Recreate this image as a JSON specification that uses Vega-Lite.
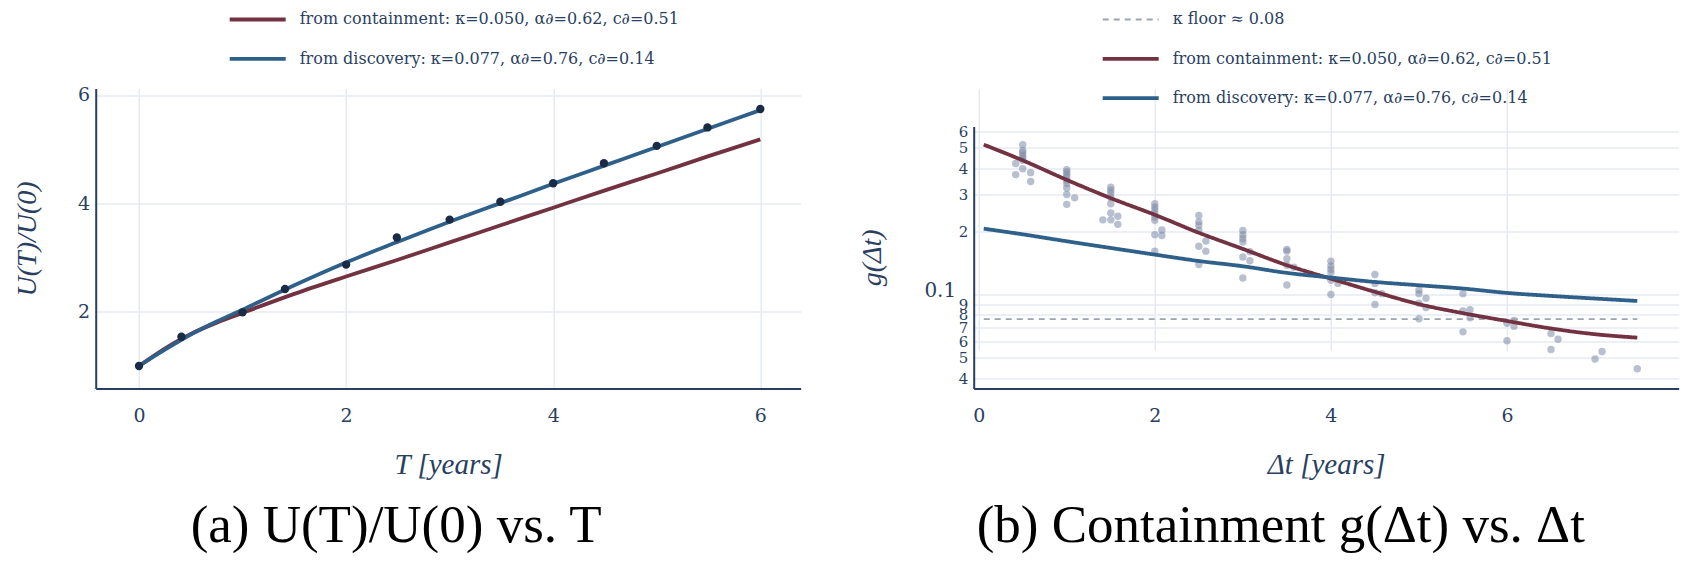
{
  "$schema": "https://vega.github.io/schema/vega-lite/v6.json",
  "background": "white",
  "padding": {"left": 12.7, "top": 9.4, "right": 5, "bottom": 5},
  "spacing": 58,
  "resolve": {
    "scale": {"color": "independent", "strokeDash": "independent", "strokeWidth": "independent"},
    "legend": {"color": "independent", "strokeDash": "independent", "strokeWidth": "independent"}
  },
  "datasets": {
    "uLines": [
      {"series": "from containment: κ=0.050, α∂=0.62, c∂=0.51", "T": 0, "U": 1.0},
      {"series": "from containment: κ=0.050, α∂=0.62, c∂=0.51", "T": 0.25, "U": 1.32},
      {"series": "from containment: κ=0.050, α∂=0.62, c∂=0.51", "T": 0.5, "U": 1.59},
      {"series": "from containment: κ=0.050, α∂=0.62, c∂=0.51", "T": 0.75, "U": 1.80},
      {"series": "from containment: κ=0.050, α∂=0.62, c∂=0.51", "T": 1.0, "U": 1.98},
      {"series": "from containment: κ=0.050, α∂=0.62, c∂=0.51", "T": 1.5, "U": 2.33},
      {"series": "from containment: κ=0.050, α∂=0.62, c∂=0.51", "T": 2.0, "U": 2.65},
      {"series": "from containment: κ=0.050, α∂=0.62, c∂=0.51", "T": 2.5, "U": 2.96},
      {"series": "from containment: κ=0.050, α∂=0.62, c∂=0.51", "T": 3.0, "U": 3.28},
      {"series": "from containment: κ=0.050, α∂=0.62, c∂=0.51", "T": 3.5, "U": 3.60},
      {"series": "from containment: κ=0.050, α∂=0.62, c∂=0.51", "T": 4.0, "U": 3.92},
      {"series": "from containment: κ=0.050, α∂=0.62, c∂=0.51", "T": 4.5, "U": 4.24},
      {"series": "from containment: κ=0.050, α∂=0.62, c∂=0.51", "T": 5.0, "U": 4.55},
      {"series": "from containment: κ=0.050, α∂=0.62, c∂=0.51", "T": 5.5, "U": 4.87},
      {"series": "from containment: κ=0.050, α∂=0.62, c∂=0.51", "T": 6.0, "U": 5.18},
      {"series": "from discovery: κ=0.077, α∂=0.76, c∂=0.14", "T": 0, "U": 1.0},
      {"series": "from discovery: κ=0.077, α∂=0.76, c∂=0.14", "T": 0.25, "U": 1.30},
      {"series": "from discovery: κ=0.077, α∂=0.76, c∂=0.14", "T": 0.5, "U": 1.58},
      {"series": "from discovery: κ=0.077, α∂=0.76, c∂=0.14", "T": 0.75, "U": 1.82},
      {"series": "from discovery: κ=0.077, α∂=0.76, c∂=0.14", "T": 1.0, "U": 2.04},
      {"series": "from discovery: κ=0.077, α∂=0.76, c∂=0.14", "T": 1.5, "U": 2.49},
      {"series": "from discovery: κ=0.077, α∂=0.76, c∂=0.14", "T": 2.0, "U": 2.91},
      {"series": "from discovery: κ=0.077, α∂=0.76, c∂=0.14", "T": 2.5, "U": 3.29},
      {"series": "from discovery: κ=0.077, α∂=0.76, c∂=0.14", "T": 3.0, "U": 3.66},
      {"series": "from discovery: κ=0.077, α∂=0.76, c∂=0.14", "T": 3.5, "U": 4.01},
      {"series": "from discovery: κ=0.077, α∂=0.76, c∂=0.14", "T": 4.0, "U": 4.36},
      {"series": "from discovery: κ=0.077, α∂=0.76, c∂=0.14", "T": 4.5, "U": 4.70},
      {"series": "from discovery: κ=0.077, α∂=0.76, c∂=0.14", "T": 5.0, "U": 5.04},
      {"series": "from discovery: κ=0.077, α∂=0.76, c∂=0.14", "T": 5.5, "U": 5.38},
      {"series": "from discovery: κ=0.077, α∂=0.76, c∂=0.14", "T": 6.0, "U": 5.72}
    ],
    "uPoints": [
      {"T": 0, "U": 1.0}, {"T": 0.41, "U": 1.54}, {"T": 1.0, "U": 1.99}, {"T": 1.41, "U": 2.42},
      {"T": 2.0, "U": 2.87}, {"T": 2.49, "U": 3.37}, {"T": 3.0, "U": 3.70}, {"T": 3.49, "U": 4.03},
      {"T": 4.0, "U": 4.37}, {"T": 4.49, "U": 4.74}, {"T": 5.0, "U": 5.06}, {"T": 5.49, "U": 5.40},
      {"T": 6.0, "U": 5.74}
    ],
    "gLines": [
      {"series": "κ floor ≈ 0.08", "dt": 0.057, "g": 0.0763},
      {"series": "κ floor ≈ 0.08", "dt": 7.48, "g": 0.0763},
      {"series": "from containment: κ=0.050, α∂=0.62, c∂=0.51", "dt": 0.057, "g": 0.518},
      {"series": "from containment: κ=0.050, α∂=0.62, c∂=0.51", "dt": 0.5, "g": 0.436},
      {"series": "from containment: κ=0.050, α∂=0.62, c∂=0.51", "dt": 1.0, "g": 0.352},
      {"series": "from containment: κ=0.050, α∂=0.62, c∂=0.51", "dt": 1.5, "g": 0.288},
      {"series": "from containment: κ=0.050, α∂=0.62, c∂=0.51", "dt": 2.0, "g": 0.240},
      {"series": "from containment: κ=0.050, α∂=0.62, c∂=0.51", "dt": 2.5, "g": 0.197},
      {"series": "from containment: κ=0.050, α∂=0.62, c∂=0.51", "dt": 3.0, "g": 0.165},
      {"series": "from containment: κ=0.050, α∂=0.62, c∂=0.51", "dt": 3.5, "g": 0.138},
      {"series": "from containment: κ=0.050, α∂=0.62, c∂=0.51", "dt": 4.0, "g": 0.119},
      {"series": "from containment: κ=0.050, α∂=0.62, c∂=0.51", "dt": 4.5, "g": 0.103},
      {"series": "from containment: κ=0.050, α∂=0.62, c∂=0.51", "dt": 5.0, "g": 0.090},
      {"series": "from containment: κ=0.050, α∂=0.62, c∂=0.51", "dt": 5.5, "g": 0.0815},
      {"series": "from containment: κ=0.050, α∂=0.62, c∂=0.51", "dt": 6.0, "g": 0.0748},
      {"series": "from containment: κ=0.050, α∂=0.62, c∂=0.51", "dt": 6.5, "g": 0.0689},
      {"series": "from containment: κ=0.050, α∂=0.62, c∂=0.51", "dt": 7.0, "g": 0.0647},
      {"series": "from containment: κ=0.050, α∂=0.62, c∂=0.51", "dt": 7.48, "g": 0.0623},
      {"series": "from discovery: κ=0.077, α∂=0.76, c∂=0.14", "dt": 0.057, "g": 0.206},
      {"series": "from discovery: κ=0.077, α∂=0.76, c∂=0.14", "dt": 0.5, "g": 0.1936},
      {"series": "from discovery: κ=0.077, α∂=0.76, c∂=0.14", "dt": 1.0, "g": 0.1794},
      {"series": "from discovery: κ=0.077, α∂=0.76, c∂=0.14", "dt": 1.5, "g": 0.1667},
      {"series": "from discovery: κ=0.077, α∂=0.76, c∂=0.14", "dt": 2.0, "g": 0.155},
      {"series": "from discovery: κ=0.077, α∂=0.76, c∂=0.14", "dt": 2.5, "g": 0.1445},
      {"series": "from discovery: κ=0.077, α∂=0.76, c∂=0.14", "dt": 3.0, "g": 0.1364},
      {"series": "from discovery: κ=0.077, α∂=0.76, c∂=0.14", "dt": 3.5, "g": 0.1268},
      {"series": "from discovery: κ=0.077, α∂=0.76, c∂=0.14", "dt": 4.0, "g": 0.1205},
      {"series": "from discovery: κ=0.077, α∂=0.76, c∂=0.14", "dt": 4.5, "g": 0.1148},
      {"series": "from discovery: κ=0.077, α∂=0.76, c∂=0.14", "dt": 5.0, "g": 0.1107},
      {"series": "from discovery: κ=0.077, α∂=0.76, c∂=0.14", "dt": 5.5, "g": 0.1068},
      {"series": "from discovery: κ=0.077, α∂=0.76, c∂=0.14", "dt": 6.0, "g": 0.1018},
      {"series": "from discovery: κ=0.077, α∂=0.76, c∂=0.14", "dt": 6.5, "g": 0.0985},
      {"series": "from discovery: κ=0.077, α∂=0.76, c∂=0.14", "dt": 7.0, "g": 0.0957},
      {"series": "from discovery: κ=0.077, α∂=0.76, c∂=0.14", "dt": 7.48, "g": 0.0932}
    ],
    "gPoints": [
      {"dt": 0.42, "g": 0.421}, {"dt": 0.42, "g": 0.373},
      {"dt": 0.5, "g": 0.518}, {"dt": 0.5, "g": 0.486}, {"dt": 0.5, "g": 0.474}, {"dt": 0.5, "g": 0.46}, {"dt": 0.5, "g": 0.448}, {"dt": 0.5, "g": 0.436}, {"dt": 0.5, "g": 0.398},
      {"dt": 0.59, "g": 0.381}, {"dt": 0.59, "g": 0.346},
      {"dt": 1.0, "g": 0.394}, {"dt": 1.0, "g": 0.384}, {"dt": 1.0, "g": 0.374}, {"dt": 1.0, "g": 0.363}, {"dt": 1.0, "g": 0.35}, {"dt": 1.0, "g": 0.338}, {"dt": 1.0, "g": 0.322}, {"dt": 1.0, "g": 0.30}, {"dt": 1.0, "g": 0.269},
      {"dt": 1.09, "g": 0.289},
      {"dt": 1.41, "g": 0.227},
      {"dt": 1.5, "g": 0.325}, {"dt": 1.5, "g": 0.314}, {"dt": 1.5, "g": 0.303}, {"dt": 1.5, "g": 0.29}, {"dt": 1.5, "g": 0.271}, {"dt": 1.5, "g": 0.245}, {"dt": 1.5, "g": 0.227},
      {"dt": 1.58, "g": 0.236}, {"dt": 1.58, "g": 0.216},
      {"dt": 2.0, "g": 0.271}, {"dt": 2.0, "g": 0.261}, {"dt": 2.0, "g": 0.252}, {"dt": 2.0, "g": 0.243}, {"dt": 2.0, "g": 0.234}, {"dt": 2.0, "g": 0.226}, {"dt": 2.0, "g": 0.193}, {"dt": 2.0, "g": 0.161},
      {"dt": 2.08, "g": 0.203}, {"dt": 2.08, "g": 0.191},
      {"dt": 2.5, "g": 0.238}, {"dt": 2.5, "g": 0.222}, {"dt": 2.5, "g": 0.214}, {"dt": 2.5, "g": 0.202}, {"dt": 2.5, "g": 0.17}, {"dt": 2.5, "g": 0.139},
      {"dt": 2.58, "g": 0.18}, {"dt": 2.58, "g": 0.161},
      {"dt": 3.0, "g": 0.202}, {"dt": 3.0, "g": 0.193}, {"dt": 3.0, "g": 0.185}, {"dt": 3.0, "g": 0.178}, {"dt": 3.0, "g": 0.151}, {"dt": 3.0, "g": 0.12},
      {"dt": 3.08, "g": 0.16}, {"dt": 3.08, "g": 0.145},
      {"dt": 3.5, "g": 0.164}, {"dt": 3.5, "g": 0.161}, {"dt": 3.5, "g": 0.148}, {"dt": 3.5, "g": 0.138}, {"dt": 3.5, "g": 0.111},
      {"dt": 3.58, "g": 0.135},
      {"dt": 4.0, "g": 0.144}, {"dt": 4.0, "g": 0.137}, {"dt": 4.0, "g": 0.132}, {"dt": 4.0, "g": 0.127}, {"dt": 4.0, "g": 0.117}, {"dt": 4.0, "g": 0.1},
      {"dt": 4.08, "g": 0.113},
      {"dt": 4.5, "g": 0.1245}, {"dt": 4.5, "g": 0.113}, {"dt": 4.5, "g": 0.102}, {"dt": 4.5, "g": 0.0896},
      {"dt": 4.58, "g": 0.101},
      {"dt": 5.0, "g": 0.105}, {"dt": 5.0, "g": 0.101}, {"dt": 5.0, "g": 0.091}, {"dt": 5.0, "g": 0.0766},
      {"dt": 5.08, "g": 0.096}, {"dt": 5.08, "g": 0.0867},
      {"dt": 5.5, "g": 0.101}, {"dt": 5.5, "g": 0.0836}, {"dt": 5.5, "g": 0.0664},
      {"dt": 5.58, "g": 0.0846}, {"dt": 5.58, "g": 0.0775},
      {"dt": 6.0, "g": 0.073}, {"dt": 6.0, "g": 0.0602},
      {"dt": 6.08, "g": 0.0752}, {"dt": 6.08, "g": 0.0706},
      {"dt": 6.5, "g": 0.0652}, {"dt": 6.5, "g": 0.0547},
      {"dt": 6.58, "g": 0.0612},
      {"dt": 7.0, "g": 0.0493},
      {"dt": 7.08, "g": 0.0535},
      {"dt": 7.48, "g": 0.0443}
    ]
  },
  "hconcat": [
    {
      "width": 705,
      "height": 300,
      "title": {"text": "(a) U(T)/U(0) vs. T", "orient": "bottom", "anchor": "middle", "frame": "bounds", "dx": -11, "font": "Liberation Serif", "fontSize": 53, "fontWeight": "normal", "color": "#000000", "offset": 21},
      "layer": [
        {
          "data": {"name": "uLines"},
          "mark": {"type": "line", "interpolate": "monotone", "strokeWidth": 3.8},
          "encoding": {
            "x": {"field": "T", "type": "quantitative", "scale": {"domain": [-0.418, 6.39], "nice": false, "zero": false},
              "axis": {"values": [0, 2, 4, 6], "format": "d", "title": "T [years]", "titleFontStyle": "italic", "titleFontSize": 29, "labelPadding": 18, "titlePadding": 25}},
            "y": {"field": "U", "type": "quantitative", "scale": {"domain": [0.587, 6.12], "nice": false, "zero": false},
              "axis": {"values": [2, 4, 6], "format": "d", "title": "U(T)/U(0)", "titleFontStyle": "italic", "titleFontSize": 28, "labelPadding": 6, "titlePadding": 36}},
            "color": {"field": "series", "type": "nominal",
              "scale": {"domain": ["from containment: κ=0.050, α∂=0.62, c∂=0.51", "from discovery: κ=0.077, α∂=0.76, c∂=0.14"], "range": ["#733241", "#2e608a"]},
              "legend": {"orient": "none", "legendX": 132, "legendY": -78.9, "title": null, "symbolType": "stroke", "symbolSize": 3136, "symbolStrokeWidth": 3.8, "clipHeight": 20, "rowPadding": 19.3, "padding": 0, "labelOffset": 12, "labelFont": "DejaVu Serif", "labelFontSize": 16, "labelColor": "#2a3f5f", "labelLimit": 0}}
          }
        },
        {
          "data": {"name": "uPoints"},
          "mark": {"type": "point", "filled": true, "size": 70, "color": "#1a2b45", "opacity": 1},
          "encoding": {
            "x": {"field": "T", "type": "quantitative"},
            "y": {"field": "U", "type": "quantitative"}
          }
        }
      ]
    },
    {
      "width": 705,
      "height": 300,
      "title": {"text": "(b) Containment g(Δt) vs. Δt", "orient": "bottom", "anchor": "middle", "frame": "bounds", "dx": 12, "font": "Liberation Serif", "fontSize": 53, "fontWeight": "normal", "color": "#000000", "offset": 21},
      "layer": [
        {
          "data": {"name": "gPoints"},
          "mark": {"type": "point", "filled": true, "size": 55, "color": "#7d8ba5", "opacity": 0.55},
          "encoding": {
            "x": {"field": "dt", "type": "quantitative", "scale": {"domain": [-0.057, 7.95], "nice": false, "zero": false},
              "axis": {"values": [0, 2, 4, 6], "format": "d", "title": "Δt [years]", "titleFontStyle": "italic", "titleFontSize": 29, "labelPadding": 18, "titlePadding": 25}},
            "y": {"field": "g", "type": "quantitative", "scale": {"type": "log", "domain": [0.0357, 0.633], "range": [300, 38], "nice": false, "zero": false},
              "axis": {"values": [0.04, 0.05, 0.06, 0.07, 0.08, 0.09, 0.1, 0.2, 0.3, 0.4, 0.5, 0.6],
                "labelExpr": "datum.value > 0.15 ? format(datum.value * 10, '.0f') : (datum.value < 0.095 ? format(datum.value * 100, '.0f') : '0.1')",
                "labelOverlap": false,
                "labelFontSize": {"condition": {"test": "datum.value == 0.1", "value": 20}, "value": 15},
                "labelPadding": {"condition": {"test": "datum.value == 0.1", "value": 18}, "value": 6},
                "labelOffset": {"condition": {"test": "datum.value == 0.1", "value": -4}, "value": 0},
                "title": "g(Δt)", "titleFontStyle": "italic", "titleFontSize": 28, "titlePadding": 37}}
          }
        },
        {
          "data": {"name": "gLines"},
          "mark": {"type": "line", "interpolate": "monotone"},
          "encoding": {
            "x": {"field": "dt", "type": "quantitative"},
            "y": {"field": "g", "type": "quantitative"},
            "color": {"field": "series", "type": "nominal",
              "scale": {"domain": ["κ floor ≈ 0.08", "from containment: κ=0.050, α∂=0.62, c∂=0.51", "from discovery: κ=0.077, α∂=0.76, c∂=0.14"], "range": ["#9aa4b2", "#733241", "#2e608a"]},
              "legend": {"orient": "none", "legendX": 127, "legendY": -78.9, "title": null, "symbolType": "stroke", "symbolSize": 3136, "clipHeight": 20, "rowPadding": 19.3, "padding": 0, "labelOffset": 12, "labelFont": "DejaVu Serif", "labelFontSize": 16, "labelColor": "#2a3f5f", "labelLimit": 0}},
            "strokeDash": {"field": "series", "type": "nominal",
              "scale": {"domain": ["κ floor ≈ 0.08", "from containment: κ=0.050, α∂=0.62, c∂=0.51", "from discovery: κ=0.077, α∂=0.76, c∂=0.14"], "range": [[6, 5], [1, 0], [1, 0]]},
              "legend": {"orient": "none", "legendX": 127, "legendY": -78.9, "title": null, "symbolType": "stroke", "symbolSize": 3136, "clipHeight": 20, "rowPadding": 19.3, "padding": 0, "labelOffset": 12, "labelFont": "DejaVu Serif", "labelFontSize": 16, "labelColor": "#2a3f5f", "labelLimit": 0}},
            "strokeWidth": {"field": "series", "type": "nominal",
              "scale": {"type": "ordinal", "domain": ["κ floor ≈ 0.08", "from containment: κ=0.050, α∂=0.62, c∂=0.51", "from discovery: κ=0.077, α∂=0.76, c∂=0.14"], "range": [1.8, 3.8, 3.8]},
              "legend": {"orient": "none", "legendX": 127, "legendY": -78.9, "title": null, "symbolType": "stroke", "symbolSize": 3136, "clipHeight": 20, "rowPadding": 19.3, "padding": 0, "labelOffset": 12, "labelFont": "DejaVu Serif", "labelFontSize": 16, "labelColor": "#2a3f5f", "labelLimit": 0}}
          }
        }
      ]
    }
  ],
  "config": {
    "view": {"stroke": null},
    "axis": {
      "domainColor": "#2a3f5f",
      "domainWidth": 2,
      "gridColor": "#e6ebf3",
      "gridWidth": 1.5,
      "ticks": false,
      "labelColor": "#2a3f5f",
      "labelFont": "DejaVu Serif",
      "labelFontSize": 19,
      "titleColor": "#2a3f5f",
      "titleFont": "Liberation Serif",
      "titleFontWeight": "normal"
    }
  }
}
